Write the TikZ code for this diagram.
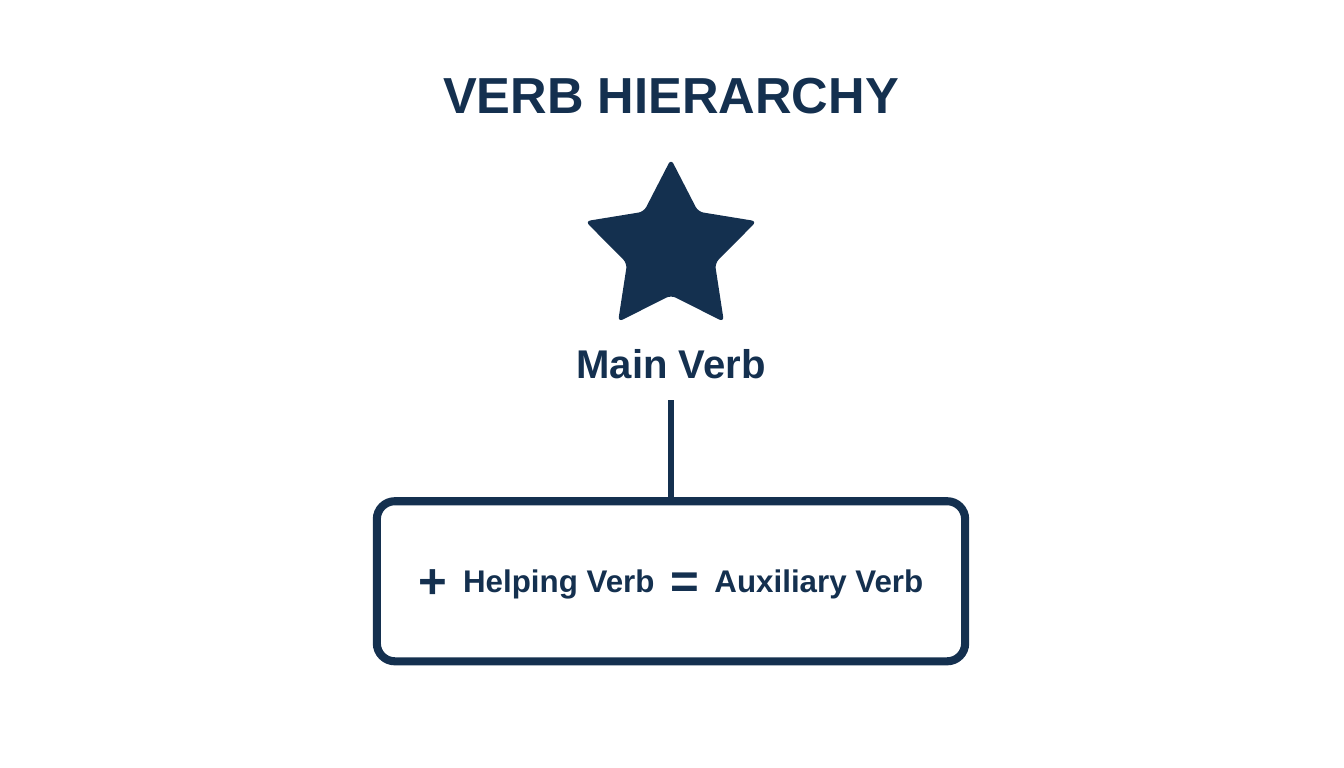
\documentclass[tikz,border=0pt]{standalone}
\usepackage{fontspec}
\setmainfont{Liberation Sans}
\usetikzlibrary{shapes}
\definecolor{navy}{HTML}{14304F}
\newcommand{\bigsym}[1]{\raisebox{-1.7pt}{\fontsize{14}{14}\selectfont #1}}
\tikzstyle{link} = [draw, navy, line width=1.6pt, shorten <=0.9mm]
\tikzstyle{heading} = [text=navy, font=\fontsize{14.4}{16}\selectfont\bfseries]
\tikzstyle{icon} = [star, star points=5, star point ratio=1.95, fill=navy, minimum size=1.8cm, inner sep=0pt, rounded corners=1.5pt, node distance=1.53cm]
\tikzstyle{caption} = [text=navy, font=\fontsize{11.4}{12}\selectfont\bfseries, node distance=1.15cm]
\tikzstyle{verbbox} = [rectangle, draw=navy, line width=2.3pt, rounded corners=1.8mm, fill=white, minimum width=5.88cm, minimum height=1.6cm, text depth=0pt, text=navy, font=\fontsize{8.9}{10}\selectfont\bfseries, node distance=2.17cm]

\begin{document}
\begin{tikzpicture}[x=0.01cm, y=-0.01cm]
\useasboundingbox (0,0) rectangle (1344,768);
\node [heading] (title) at (671,96) {VERB HIERARCHY};
\node [icon, below of = title] (star) {};
\node [caption, below of = star] (main) {Main Verb};
\node [verbbox, below of = main] (helper) {\bigsym{+}\enskip Helping Verb\enskip\bigsym{=}\enskip Auxiliary Verb};

\path [link] (main.south) to (helper.north);
\end{tikzpicture}
\end{document}
